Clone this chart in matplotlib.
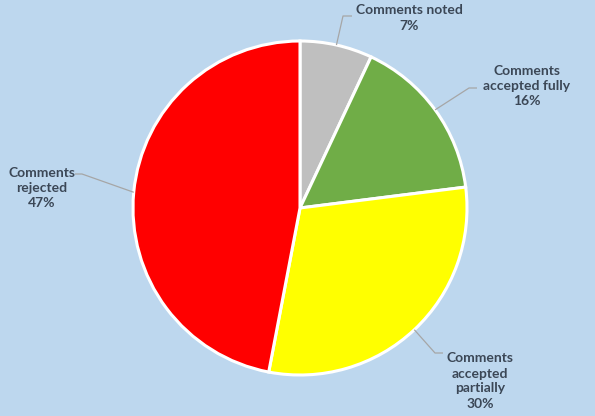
import numpy as np
import matplotlib
matplotlib.use('Agg')
import matplotlib.pyplot as plt

# Data
categories = ['Comments noted', 'Comments accepted fully',
              'Comments accepted partially', 'Comments rejected']
label_text = ['Comments noted', 'Comments\naccepted fully',
              'Comments\naccepted\npartially', 'Comments\nrejected']
shares = [7, 16, 30, 47]
colors = ['#BFBFBF', '#70AD47', '#FFFF00', '#FF0000']

W, H = 595, 416
bg = '#BDD7EE'

fig = plt.figure(figsize=(W / 100, H / 100), dpi=100, facecolor=bg)
ax = fig.add_axes([0, 0, 1, 1])
ax.set_facecolor(bg)

cx, cy, r = 300, H - 208, 167
wedges, _ = ax.pie(shares, colors=colors, startangle=90, counterclock=False,
                   center=(cx, cy), radius=r, frame=True,
                   wedgeprops=dict(edgecolor='white', linewidth=2.2))

# label layout (pixel coords from top-left): text centre, elbow, line end
text_pos = [(409, 18), (527, 86), (480, 381), (42, 188)]
elbows = [(343, 16), (469, 88), (435, 353), (82, 174)]
ends = [(352, 16), (477, 88), (443, 353), (75, 174)]

for w, txt, val, tp, el, en in zip(wedges, label_text, shares, text_pos, elbows, ends):
    mid = np.deg2rad((w.theta1 + w.theta2) / 2)
    ex, ey = cx + r * np.cos(mid), cy + r * np.sin(mid)
    ax.plot([ex, el[0], en[0]], [ey, H - el[1], H - en[1]],
            color='#A6A6A6', lw=0.9, zorder=1, solid_capstyle='butt')
    ax.text(tp[0], H - tp[1], f'{txt}\n{val}%', ha='center', va='center',
            fontsize=10, fontweight='bold', color='#3B4756',
            family=['Lato', 'DejaVu Sans'], linespacing=1.3)

ax.set_xlim(0, W)
ax.set_ylim(0, H)
ax.set_aspect('equal')
ax.axis('off')

fig.savefig('out.png', dpi=100, facecolor=bg)
